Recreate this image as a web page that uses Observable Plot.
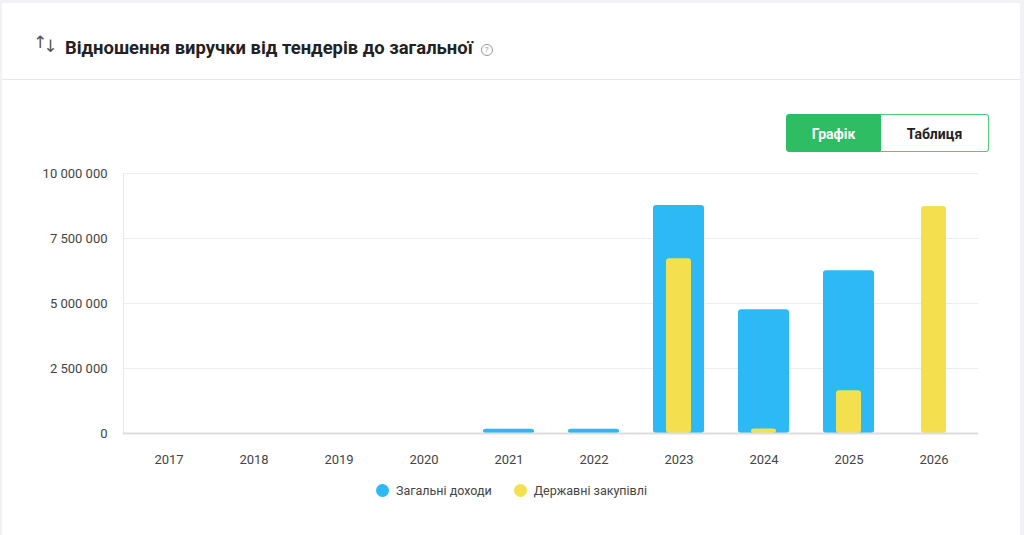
<!DOCTYPE html>
<html>
<head>
<meta charset="utf-8">
<script src="https://cdn.jsdelivr.net/npm/d3@7"></script>
<script src="https://cdn.jsdelivr.net/npm/@observablehq/plot@0.6"></script>
<style>
  html, body { margin: 0; padding: 0; }
  body { width: 1024px; height: 535px; background: #f1f1f6; font-family: Roboto, "Noto Sans", sans-serif; position: relative; overflow: hidden; }
  .card { position: absolute; left: 2px; top: 3px; width: 1018px; height: 540px; background: #fff; }
  .header { position: absolute; left: 0; top: 0; width: 1018px; height: 76px; border-bottom: 1px solid #e6e6e6; }
  .icon { position: absolute; left: 31px; top: 29px; font-family: "DejaVu Sans", sans-serif; font-size: 17px; color: #555; letter-spacing: -4px; }
  .icon .dn { position: relative; top: 4px; }
  .title { position: absolute; left: 63px; top: 34px; font-size: 18.4px; font-weight: 700; color: #222; }
  .help { display: inline-block; width: 10px; height: 10px; border: 1px solid #999; border-radius: 50%; font-size: 8px; line-height: 10px; text-align: center; color: #999; font-weight: 400; vertical-align: 2px; margin-left: 8px; }
  .btns { position: absolute; left: 784px; top: 111px; display: flex; }
  .btn { height: 38px; line-height: 38px; font-size: 14px; font-weight: 700; text-align: center; box-sizing: border-box; }
  .b1 { width: 95px; background: #2ebd62; color: #fff; border: 1px solid #2ebd62; border-radius: 3px 0 0 3px; }
  .b2 { width: 108px; background: #fff; color: #222; border: 1.5px solid #4ccb78; border-left: none; border-radius: 0 3px 3px 0; }
  #chart { position: absolute; left: 0; top: 160px; }
  .legend { position: absolute; top: 483px; left: 376px; display: flex; font-size: 12.5px; color: #444; }
  .item { display: flex; align-items: center; margin-right: 22px; }
  .dot { width: 13px; height: 13px; border-radius: 50%; margin-right: 7px; }
</style>
</head>
<body>
<div class="card">
  <div class="header">
    <div class="icon"><span>↑</span><span class="dn">↓</span></div>
    <div class="title">Відношення виручки від тендерів до загальної<span class="help">?</span></div>
  </div>
  <div class="btns"><div class="btn b1">Графік</div><div class="btn b2">Таблиця</div></div>
</div>
<div id="chart"></div>
<div class="legend"></div>
<script>
const years = [2017, 2018, 2019, 2020, 2021, 2022, 2023, 2024, 2025, 2026];
const totalIncome = [0, 0, 0, 0, 160000, 160000, 8770000, 4760000, 6260000, 0];
const govProcurement = [0, 0, 0, 0, 0, 0, 6720000, 170000, 1640000, 8730000];
const seriesNames = ["Загальні доходи", "Державні закупівлі"];
const seriesColors = ["#2db8f6", "#f4df4e"];
const yTicks = [0, 2500000, 5000000, 7500000, 10000000];

const totalData = years.map((y, i) => ({year: String(y), value: totalIncome[i]})).filter(d => d.value > 0);
const govData = years.map((y, i) => ({year: String(y), value: govProcurement[i]})).filter(d => d.value > 0);

const fmt = d => d3.format(",")(d).replace(/,/g, " ");

const chart = Plot.plot({
  width: 1000,
  height: 313,
  marginTop: 13,
  marginBottom: 40,
  marginLeft: 123,
  marginRight: 22,
  style: {fontFamily: "Roboto, 'Noto Sans', sans-serif", fontSize: "13px", color: "#444", background: "transparent"},
  x: {domain: years.map(String), paddingInner: 0.4, paddingOuter: 0.18, label: null},
  y: {domain: [0, 10000000], label: null},
  marks: [
    Plot.gridY(yTicks, {stroke: "#eeeeee", strokeOpacity: 1}),
    Plot.frame({anchor: "left", stroke: "#e8e8e8", strokeOpacity: 1}),
    Plot.barY(totalData, {x: "year", y: "value", fill: seriesColors[0], rx: 3}),
    Plot.barY(govData, {x: "year", y: "value", fill: seriesColors[1], rx: 3, insetLeft: 13, insetRight: 13}),
    Plot.ruleY([0], {stroke: "#dddddd", strokeWidth: 2}),
    Plot.axisY({ticks: yTicks, tickFormat: fmt, tickSize: 0, tickPadding: 16, label: null, fill: "#444"}),
    Plot.axisX({tickSize: 0, tickPadding: 21, label: null, fill: "#444"})
  ]
});
document.getElementById("chart").appendChild(chart);

const legend = document.querySelector(".legend");
seriesNames.forEach((n, i) => {
  const it = document.createElement("div");
  it.className = "item";
  it.innerHTML = `<span class="dot" style="background:${seriesColors[i]}"></span><span>${n}</span>`;
  legend.appendChild(it);
});
</script>
</body>
</html>
